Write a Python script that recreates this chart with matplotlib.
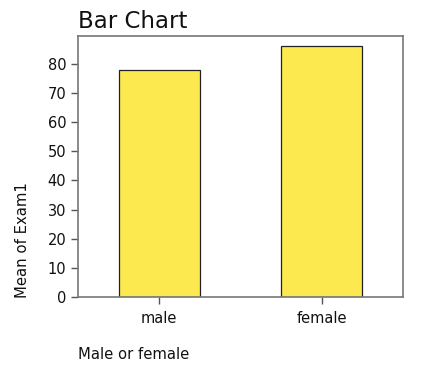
import matplotlib
matplotlib.use("Agg")
import matplotlib.pyplot as plt

categories = ["male", "female"]
means = [77.8, 86.3]
yticks = [0, 10, 20, 30, 40, 50, 60, 70, 80]

fig = plt.figure(figsize=(4.24, 3.70), dpi=100)
W, H = 424, 370
ax = fig.add_axes([78 / W, 1 - 297 / H, (403 - 78) / W, (297 - 36) / H])

x = list(range(len(categories)))
ax.bar(x, means, width=0.5, color="#FCE84F", edgecolor="#222222", linewidth=0.9)
ax.set_xlim(-0.5, 1.5)
ax.set_ylim(0, 89.6)
ax.set_xticks(x)
ax.set_xticklabels(categories)
ax.set_yticks(yticks)
for s in ax.spines.values():
    s.set_color("#777777")
    s.set_linewidth(1.2)
ax.tick_params(colors="#555555", labelcolor="#111111", labelsize=10.5, length=5, width=1)
ax.tick_params(axis="x", pad=5)

fig.text(78 / W, 1 - 28 / H, "Bar Chart", fontsize=16.5, ha="left", va="baseline", color="#111111")
fig.text(78 / W, 1 - 359 / H, "Male or female", fontsize=10.6, ha="left", va="baseline", color="#111111")
fig.text(23 / W, 1 - 298 / H, "Mean of Exam1", fontsize=10.7, rotation=90, ha="center", va="bottom", color="#111111")

fig.savefig("out.png", dpi=100)
